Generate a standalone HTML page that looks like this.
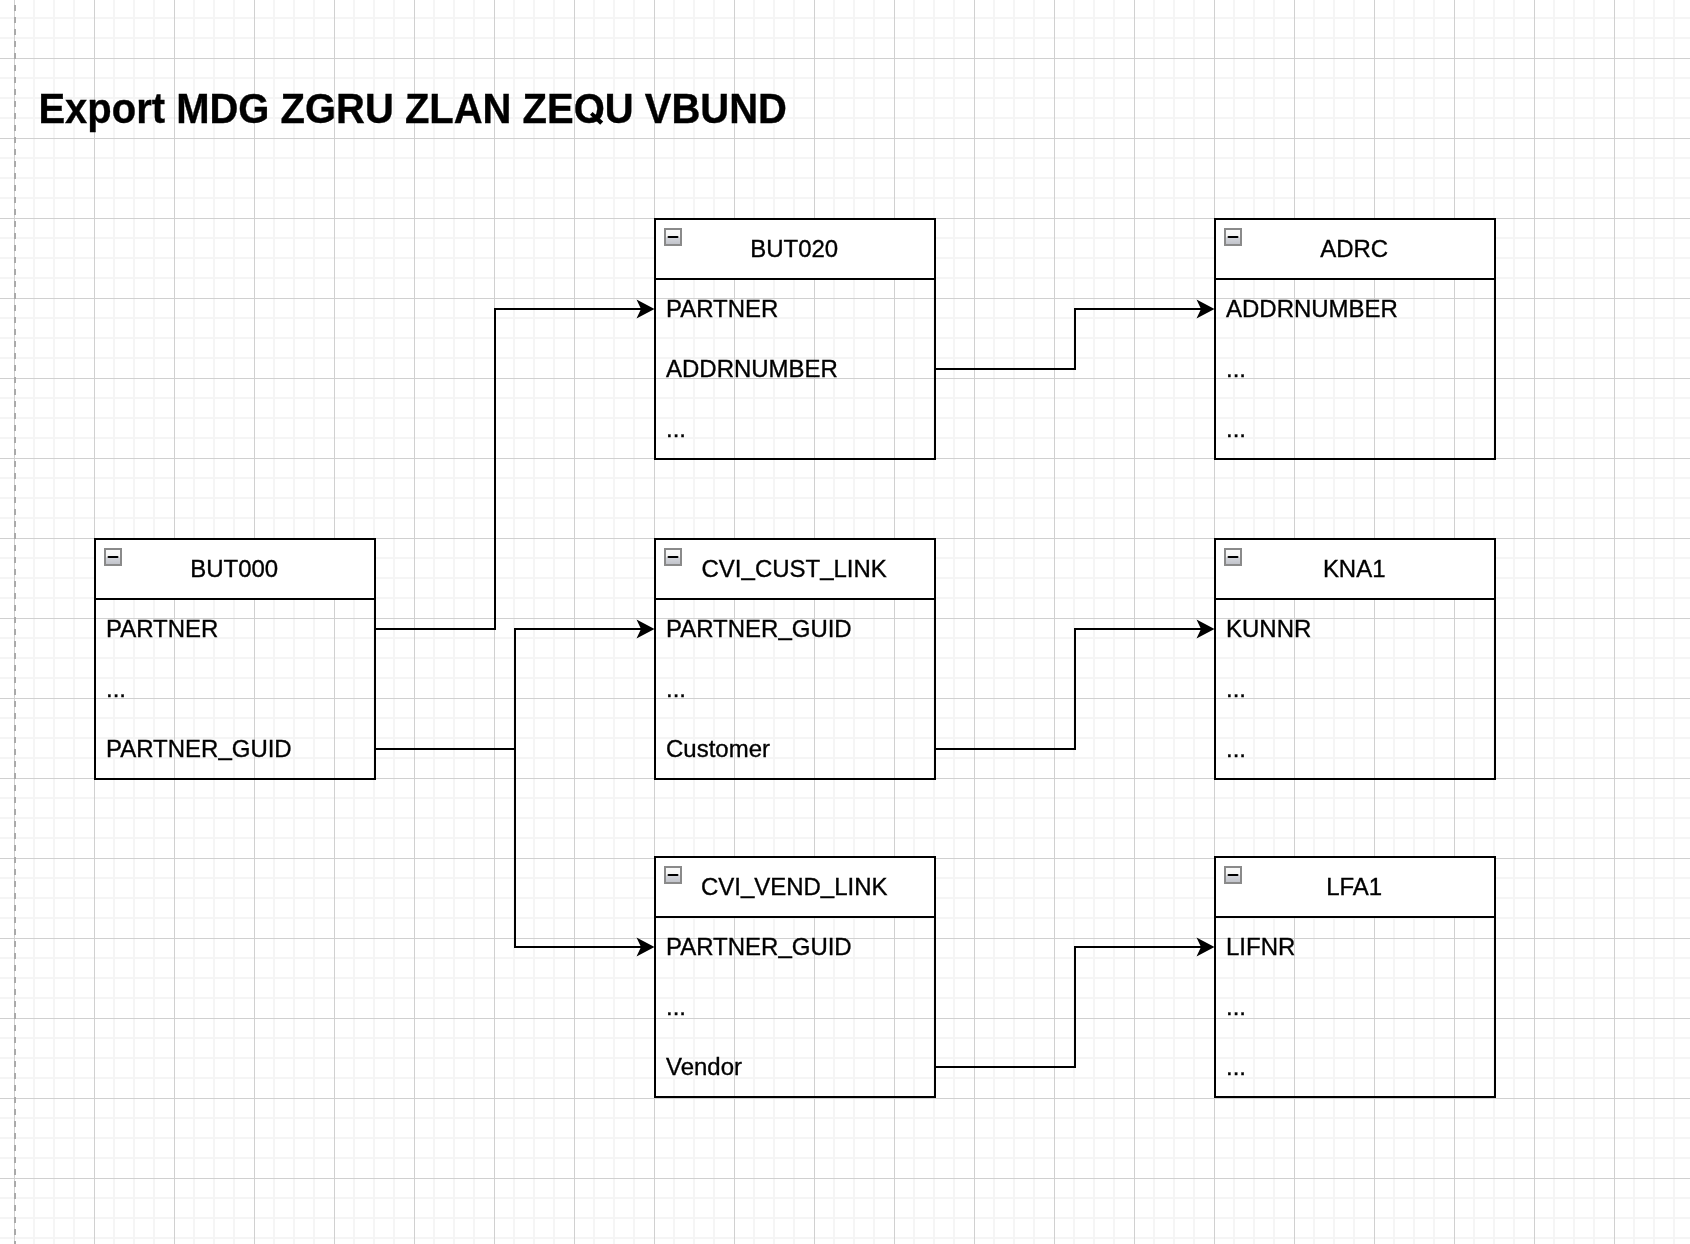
<!DOCTYPE html><html><head><meta charset="utf-8"><style>
html,body{margin:0;padding:0;background:#fff;width:1690px;height:1244px;overflow:hidden}
svg{display:block;will-change:transform}
text{font-family:"Liberation Sans",sans-serif;fill:#000;stroke:#000;stroke-width:0.35px;paint-order:stroke}
</style></head><body>
<svg width="1690" height="1244" viewBox="0 0 1690 1244">
<defs><linearGradient id="ig" x1="0" y1="0" x2="0" y2="1"><stop offset="0" stop-color="#fafafa"/><stop offset="0.5" stop-color="#f4f4f4"/><stop offset="0.55" stop-color="#d4d6dc"/><stop offset="1" stop-color="#bfc1c8"/></linearGradient></defs>
<path d="M0 18H1690M0 38H1690M0 78H1690M0 98H1690M0 118H1690M0 158H1690M0 178H1690M0 198H1690M0 238H1690M0 258H1690M0 278H1690M0 318H1690M0 338H1690M0 358H1690M0 398H1690M0 418H1690M0 438H1690M0 478H1690M0 498H1690M0 518H1690M0 558H1690M0 578H1690M0 598H1690M0 638H1690M0 658H1690M0 678H1690M0 718H1690M0 738H1690M0 758H1690M0 798H1690M0 818H1690M0 838H1690M0 878H1690M0 898H1690M0 918H1690M0 958H1690M0 978H1690M0 998H1690M0 1038H1690M0 1058H1690M0 1078H1690M0 1118H1690M0 1138H1690M0 1158H1690M0 1198H1690M0 1218H1690M0 1238H1690" stroke="#f5f5f5" stroke-width="2" fill="none"/>
<path d="M34 0V1244M54 0V1244M74 0V1244M114 0V1244M134 0V1244M154 0V1244M194 0V1244M214 0V1244M234 0V1244M274 0V1244M294 0V1244M314 0V1244M354 0V1244M374 0V1244M394 0V1244M434 0V1244M454 0V1244M474 0V1244M514 0V1244M534 0V1244M554 0V1244M594 0V1244M614 0V1244M634 0V1244M674 0V1244M694 0V1244M714 0V1244M754 0V1244M774 0V1244M794 0V1244M834 0V1244M854 0V1244M874 0V1244M914 0V1244M934 0V1244M954 0V1244M994 0V1244M1014 0V1244M1034 0V1244M1074 0V1244M1094 0V1244M1114 0V1244M1154 0V1244M1174 0V1244M1194 0V1244M1234 0V1244M1254 0V1244M1274 0V1244M1314 0V1244M1334 0V1244M1354 0V1244M1394 0V1244M1414 0V1244M1434 0V1244M1474 0V1244M1494 0V1244M1514 0V1244M1554 0V1244M1574 0V1244M1594 0V1244M1634 0V1244M1654 0V1244M1674 0V1244" stroke="#f5f5f5" stroke-width="2" fill="none"/>
<path d="M14.5 0V1244M94.5 0V1244M174.5 0V1244M254.5 0V1244M334.5 0V1244M414.5 0V1244M494.5 0V1244M574.5 0V1244M654.5 0V1244M734.5 0V1244M814.5 0V1244M894.5 0V1244M974.5 0V1244M1054.5 0V1244M1134.5 0V1244M1214.5 0V1244M1294.5 0V1244M1374.5 0V1244M1454.5 0V1244M1534.5 0V1244M1614.5 0V1244M0 58.5H1690M0 138.5H1690M0 218.5H1690M0 298.5H1690M0 378.5H1690M0 458.5H1690M0 538.5H1690M0 618.5H1690M0 698.5H1690M0 778.5H1690M0 858.5H1690M0 938.5H1690M0 1018.5H1690M0 1098.5H1690M0 1178.5H1690" stroke="#d0d0d0" stroke-width="1" fill="none" shape-rendering="crispEdges"/>
<path d="M15 5V1244" stroke="#aaaaaa" stroke-width="2" stroke-dasharray="6 6" fill="none" shape-rendering="crispEdges"/>
<text transform="translate(38.4 122.9) scale(1 1.045)" font-size="40" font-weight="bold">Export MDG ZGRU ZLAN ZEOU VBUND</text>
<path d="M592.6 112.0L603.2 121.6L600.2 124.8L590.0 114.8Z" fill="#000"/>
<rect x="95" y="539" width="280" height="60" fill="#fff"/>
<rect x="95" y="539" width="280" height="240" fill="none" stroke="#000" stroke-width="2"/>
<path d="M95 599H375" stroke="#000" stroke-width="2"/>
<rect x="105" y="549" width="16" height="16" fill="url(#ig)" stroke="#8a8a8a" stroke-width="2"/>
<path d="M108.5 557H117.5" stroke="#000" stroke-width="2" stroke-linecap="round"/>
<text transform="translate(234.2 576.5) scale(1 1.035)" font-size="24" text-anchor="middle">BUT000</text>
<text transform="translate(106 636.6) scale(1 1.035)" font-size="24">PARTNER</text>
<text transform="translate(106 696.6) scale(1 1.035)" font-size="24">...</text>
<text transform="translate(106 756.6) scale(1 1.035)" font-size="24">PARTNER<tspan dy="-1.7">_</tspan><tspan dy="1.7">GUID</tspan></text>
<rect x="655" y="219" width="280" height="60" fill="#fff"/>
<rect x="655" y="219" width="280" height="240" fill="none" stroke="#000" stroke-width="2"/>
<path d="M655 279H935" stroke="#000" stroke-width="2"/>
<rect x="665" y="229" width="16" height="16" fill="url(#ig)" stroke="#8a8a8a" stroke-width="2"/>
<path d="M668.5 237H677.5" stroke="#000" stroke-width="2" stroke-linecap="round"/>
<text transform="translate(794.2 256.5) scale(1 1.035)" font-size="24" text-anchor="middle">BUT020</text>
<text transform="translate(666 316.6) scale(1 1.035)" font-size="24">PARTNER</text>
<text transform="translate(666 376.6) scale(1 1.035)" font-size="24">ADDRNUMBER</text>
<text transform="translate(666 436.6) scale(1 1.035)" font-size="24">...</text>
<rect x="1215" y="219" width="280" height="60" fill="#fff"/>
<rect x="1215" y="219" width="280" height="240" fill="none" stroke="#000" stroke-width="2"/>
<path d="M1215 279H1495" stroke="#000" stroke-width="2"/>
<rect x="1225" y="229" width="16" height="16" fill="url(#ig)" stroke="#8a8a8a" stroke-width="2"/>
<path d="M1228.5 237H1237.5" stroke="#000" stroke-width="2" stroke-linecap="round"/>
<text transform="translate(1354.2 256.5) scale(1 1.035)" font-size="24" text-anchor="middle">ADRC</text>
<text transform="translate(1226 316.6) scale(1 1.035)" font-size="24">ADDRNUMBER</text>
<text transform="translate(1226 376.6) scale(1 1.035)" font-size="24">...</text>
<text transform="translate(1226 436.6) scale(1 1.035)" font-size="24">...</text>
<rect x="655" y="539" width="280" height="60" fill="#fff"/>
<rect x="655" y="539" width="280" height="240" fill="none" stroke="#000" stroke-width="2"/>
<path d="M655 599H935" stroke="#000" stroke-width="2"/>
<rect x="665" y="549" width="16" height="16" fill="url(#ig)" stroke="#8a8a8a" stroke-width="2"/>
<path d="M668.5 557H677.5" stroke="#000" stroke-width="2" stroke-linecap="round"/>
<text transform="translate(794.2 576.5) scale(1 1.035)" font-size="24" text-anchor="middle">CVI<tspan dy="-1.7">_</tspan><tspan dy="1.7">CUST</tspan><tspan dy="-1.7">_</tspan><tspan dy="1.7">LINK</tspan></text>
<text transform="translate(666 636.6) scale(1 1.035)" font-size="24">PARTNER<tspan dy="-1.7">_</tspan><tspan dy="1.7">GUID</tspan></text>
<text transform="translate(666 696.6) scale(1 1.035)" font-size="24">...</text>
<text transform="translate(666 756.6) scale(1 1.035)" font-size="24">Customer</text>
<rect x="1215" y="539" width="280" height="60" fill="#fff"/>
<rect x="1215" y="539" width="280" height="240" fill="none" stroke="#000" stroke-width="2"/>
<path d="M1215 599H1495" stroke="#000" stroke-width="2"/>
<rect x="1225" y="549" width="16" height="16" fill="url(#ig)" stroke="#8a8a8a" stroke-width="2"/>
<path d="M1228.5 557H1237.5" stroke="#000" stroke-width="2" stroke-linecap="round"/>
<text transform="translate(1354.2 576.5) scale(1 1.035)" font-size="24" text-anchor="middle">KNA1</text>
<text transform="translate(1226 636.6) scale(1 1.035)" font-size="24">KUNNR</text>
<text transform="translate(1226 696.6) scale(1 1.035)" font-size="24">...</text>
<text transform="translate(1226 756.6) scale(1 1.035)" font-size="24">...</text>
<rect x="655" y="857" width="280" height="60" fill="#fff"/>
<rect x="655" y="857" width="280" height="240" fill="none" stroke="#000" stroke-width="2"/>
<path d="M655 917H935" stroke="#000" stroke-width="2"/>
<rect x="665" y="867" width="16" height="16" fill="url(#ig)" stroke="#8a8a8a" stroke-width="2"/>
<path d="M668.5 875H677.5" stroke="#000" stroke-width="2" stroke-linecap="round"/>
<text transform="translate(794.2 894.5) scale(1 1.035)" font-size="24" text-anchor="middle">CVI<tspan dy="-1.7">_</tspan><tspan dy="1.7">VEND</tspan><tspan dy="-1.7">_</tspan><tspan dy="1.7">LINK</tspan></text>
<text transform="translate(666 954.6) scale(1 1.035)" font-size="24">PARTNER<tspan dy="-1.7">_</tspan><tspan dy="1.7">GUID</tspan></text>
<text transform="translate(666 1014.6) scale(1 1.035)" font-size="24">...</text>
<text transform="translate(666 1074.6) scale(1 1.035)" font-size="24">Vendor</text>
<rect x="1215" y="857" width="280" height="60" fill="#fff"/>
<rect x="1215" y="857" width="280" height="240" fill="none" stroke="#000" stroke-width="2"/>
<path d="M1215 917H1495" stroke="#000" stroke-width="2"/>
<rect x="1225" y="867" width="16" height="16" fill="url(#ig)" stroke="#8a8a8a" stroke-width="2"/>
<path d="M1228.5 875H1237.5" stroke="#000" stroke-width="2" stroke-linecap="round"/>
<text transform="translate(1354.2 894.5) scale(1 1.035)" font-size="24" text-anchor="middle">LFA1</text>
<text transform="translate(1226 954.6) scale(1 1.035)" font-size="24">LIFNR</text>
<text transform="translate(1226 1014.6) scale(1 1.035)" font-size="24">...</text>
<text transform="translate(1226 1074.6) scale(1 1.035)" font-size="24">...</text>
<path d="M375 629 L495 629 L495 309 L643 309" fill="none" stroke="#000" stroke-width="2" stroke-linejoin="miter"/>
<path d="M654.5 309.0 L636.5 299.5 L641.0 309.0 L636.5 318.5Z" fill="#000"/>
<path d="M375 749 L515 749 L515 629 L643 629" fill="none" stroke="#000" stroke-width="2" stroke-linejoin="miter"/>
<path d="M654.5 629.0 L636.5 619.5 L641.0 629.0 L636.5 638.5Z" fill="#000"/>
<path d="M515 749 L515 947 L643 947" fill="none" stroke="#000" stroke-width="2" stroke-linejoin="miter"/>
<path d="M654.5 947.0 L636.5 937.5 L641.0 947.0 L636.5 956.5Z" fill="#000"/>
<path d="M935 369 L1075 369 L1075 309 L1203 309" fill="none" stroke="#000" stroke-width="2" stroke-linejoin="miter"/>
<path d="M1214.5 309.0 L1196.5 299.5 L1201.0 309.0 L1196.5 318.5Z" fill="#000"/>
<path d="M935 749 L1075 749 L1075 629 L1203 629" fill="none" stroke="#000" stroke-width="2" stroke-linejoin="miter"/>
<path d="M1214.5 629.0 L1196.5 619.5 L1201.0 629.0 L1196.5 638.5Z" fill="#000"/>
<path d="M935 1067 L1075 1067 L1075 947 L1203 947" fill="none" stroke="#000" stroke-width="2" stroke-linejoin="miter"/>
<path d="M1214.5 947.0 L1196.5 937.5 L1201.0 947.0 L1196.5 956.5Z" fill="#000"/>
</svg></body></html>
